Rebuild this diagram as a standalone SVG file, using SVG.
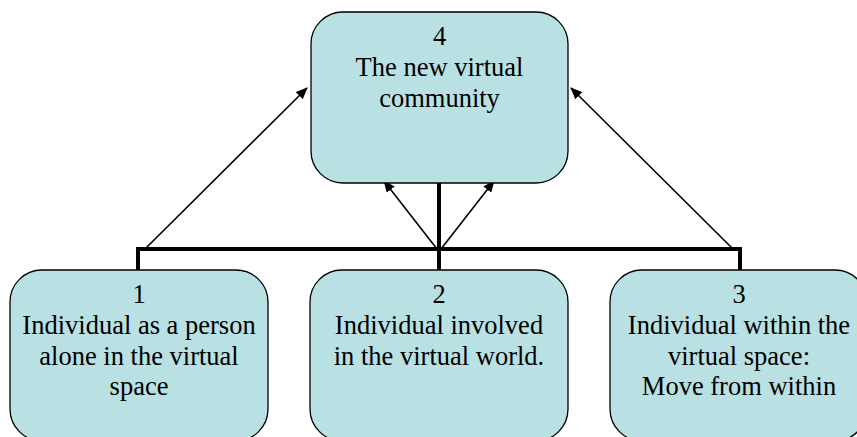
<svg xmlns="http://www.w3.org/2000/svg" width="857" height="437" viewBox="0 0 857 437">
<style>
.box{fill:#b9e0e3;stroke:#000;stroke-width:1.3}
.t{font-family:"Liberation Serif","Times New Roman",serif;font-size:26.5px;fill:#000;text-anchor:middle}
.thick{stroke:#000;stroke-width:4;fill:none}
.thin{stroke:#000;stroke-width:1.6;fill:none;marker-end:url(#ah)}
</style>
<defs>
<marker id="ah" viewBox="0 0 12 10" refX="11" refY="5" markerWidth="12" markerHeight="10" markerUnits="userSpaceOnUse" orient="auto">
<path d="M0,0 L12,5 L0,10 Z" fill="#000"/>
</marker>
</defs>
<g id="connectors">
<path class="thick" d="M138,270 V249 H740 V270"/>
<path class="thick" d="M439,183 V270"/>
<line class="thin" x1="145" y1="249" x2="307" y2="88"/>
<line class="thin" x1="733" y1="249" x2="571" y2="88"/>
<line class="thin" x1="437" y1="249" x2="384" y2="181"/>
<line class="thin" x1="441" y1="249" x2="494" y2="181"/>
</g>
<g id="node4">
<rect class="box" x="311" y="12" width="257" height="171" rx="32" ry="32"/>
<text class="t" x="439.5" y="45">4</text>
<text class="t" x="439.5" y="76">The new virtual</text>
<text class="t" x="439.5" y="107">community</text>
</g>
<g id="node1">
<rect class="box" x="10" y="270" width="258" height="171" rx="32" ry="32"/>
<text class="t" x="139" y="303">1</text>
<text class="t" x="139" y="334">Individual as a person</text>
<text class="t" x="139" y="365">alone in the virtual</text>
<text class="t" x="139" y="395">space</text>
</g>
<g id="node2">
<rect class="box" x="310" y="270" width="258" height="171" rx="32" ry="32"/>
<text class="t" x="439" y="303">2</text>
<text class="t" x="439" y="334">Individual involved</text>
<text class="t" x="439" y="365">in the virtual world.</text>
</g>
<g id="node3">
<rect class="box" x="610" y="270" width="257" height="171" rx="32" ry="32"/>
<text class="t" x="739" y="303">3</text>
<text class="t" x="739" y="334">Individual within the</text>
<text class="t" x="739" y="365">virtual space:</text>
<text class="t" x="739" y="395">Move from within</text>
</g>
</svg>
